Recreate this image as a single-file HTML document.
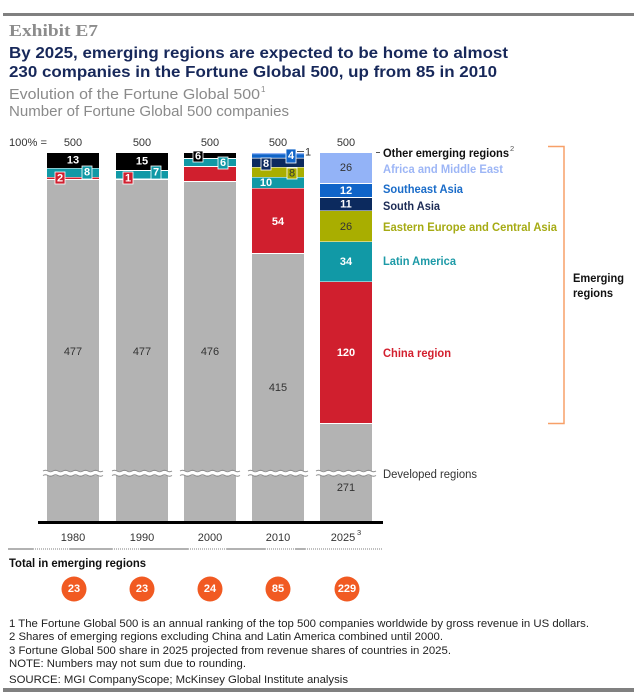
<!DOCTYPE html>
<html><head><meta charset="utf-8"><style>
html,body{margin:0;padding:0;background:#fff;}
svg{display:block;font-family:"Liberation Sans",Arial,sans-serif;}
</style></head><body>
<svg width="637" height="699" viewBox="0 0 637 699" xmlns="http://www.w3.org/2000/svg">
<!-- top rule -->
<rect x="3" y="13" width="631" height="3" fill="#808080"/>
<text x="9" y="36" font-family="'Liberation Serif',serif" font-weight="bold" font-size="17" fill="#8c8c8c" textLength="89" lengthAdjust="spacingAndGlyphs">Exhibit E7</text>
<text x="9" y="58" font-weight="bold" font-size="16" fill="#17285a" textLength="499" lengthAdjust="spacingAndGlyphs">By 2025, emerging regions are expected to be home to almost</text>
<text x="9" y="77" font-weight="bold" font-size="16" fill="#17285a" textLength="488" lengthAdjust="spacingAndGlyphs">230 companies in the Fortune Global 500, up from 85 in 2010</text>
<text x="9" y="99" font-size="14.5" fill="#8a8a8a" textLength="251" lengthAdjust="spacingAndGlyphs">Evolution of the Fortune Global 500</text>
<text x="261" y="92" font-size="8" fill="#8a8a8a">1</text>
<text x="9" y="116" font-size="14.5" fill="#8a8a8a" textLength="280" lengthAdjust="spacingAndGlyphs">Number of Fortune Global 500 companies</text>

<!-- 100% row -->
<g font-size="11" fill="#333">
<text x="9" y="146" textLength="38" lengthAdjust="spacingAndGlyphs">100% =</text>
<text x="73" y="146" text-anchor="middle">500</text>
<text x="142" y="146" text-anchor="middle">500</text>
<text x="210" y="146" text-anchor="middle">500</text>
<text x="278" y="146" text-anchor="middle">500</text>
<text x="346" y="146" text-anchor="middle">500</text>
</g>

<!-- 1980 -->
<rect x="47" y="153" width="52" height="15" fill="#000"/>
<rect x="47" y="168.5" width="52" height="8.5" fill="#1199a6"/>
<rect x="47" y="177.5" width="52" height="1.5" fill="#d01f2e"/>
<rect x="47" y="180" width="52" height="341" fill="#b3b3b3"/>
<!-- 1990 -->
<rect x="116" y="153" width="52" height="17" fill="#000"/>
<rect x="116" y="171" width="52" height="7.5" fill="#1199a6"/>
<rect x="116" y="180" width="52" height="341" fill="#b3b3b3"/>
<!-- 2000 -->
<rect x="184" y="153" width="52" height="5" fill="#000"/>
<rect x="184" y="159" width="52" height="7" fill="#1199a6"/>
<rect x="184" y="167" width="52" height="14" fill="#d01f2e"/>
<rect x="184" y="182" width="52" height="339" fill="#b3b3b3"/>
<!-- 2010 -->
<rect x="252" y="153" width="52" height="1.2" fill="#93b3f7"/>
<rect x="252" y="154.2" width="52" height="3.6" fill="#1064c8"/>
<rect x="252" y="158.5" width="52" height="8.5" fill="#0c2a5e"/>
<rect x="252" y="167.5" width="52" height="9.5" fill="#a9ae00"/>
<rect x="252" y="177.5" width="52" height="10.5" fill="#1199a6"/>
<rect x="252" y="188.5" width="52" height="64.5" fill="#d01f2e"/>
<rect x="252" y="254" width="52" height="267" fill="#b3b3b3"/>
<!-- 2025 -->
<rect x="320" y="153" width="52" height="30" fill="#93b3f7"/>
<rect x="320" y="184" width="52" height="13" fill="#1064c8"/>
<rect x="320" y="198" width="52" height="12.5" fill="#0c2a5e"/>
<rect x="320" y="211" width="52" height="30.5" fill="#a9ae00"/>
<rect x="320" y="242" width="52" height="39.5" fill="#1199a6"/>
<rect x="320" y="282" width="52" height="141" fill="#d01f2e"/>
<rect x="320" y="424" width="52" height="97" fill="#b3b3b3"/>

<!-- in-bar labels -->
<g font-size="11" font-weight="bold" fill="#fff" text-anchor="middle" dominant-baseline="central">
<text x="73" y="160.5">13</text>
<text x="142" y="161.5">15</text>
<text x="266" y="183">10</text>
<text x="278" y="222">54</text>
<text x="346" y="191">12</text>
<text x="346" y="204.5">11</text>
<text x="346" y="262">34</text>
<text x="346" y="353">120</text>
</g>
<g font-size="11" fill="#333" text-anchor="middle" dominant-baseline="central">
<text x="346" y="168">26</text>
<text x="346" y="227">26</text>
<text x="73" y="352">477</text>
<text x="142" y="352">477</text>
<text x="210" y="352">476</text>
<text x="278" y="388">415</text>
<text x="346" y="488">271</text>
</g>

<!-- callout boxes -->
<g stroke="#fff" stroke-width="0.8">
<rect x="55" y="172" width="10" height="12" fill="#d01f2e"/>
<rect x="82" y="166" width="10" height="13" fill="#1199a6"/>
<rect x="123" y="172" width="10" height="12" fill="#d01f2e"/>
<rect x="151" y="166" width="10" height="13" fill="#1199a6"/>
<rect x="193" y="151" width="10" height="11" fill="#000"/>
<rect x="218" y="157" width="10" height="12" fill="#1199a6"/>
<rect x="261" y="158" width="10" height="12" fill="#0c2a5e"/>
<rect x="286" y="149" width="10" height="14" fill="#1064c8"/>
<rect x="287" y="168" width="10" height="11" fill="#a9ae00"/>
</g>
<g font-size="11" font-weight="bold" fill="#fff" text-anchor="middle" dominant-baseline="central">
<text x="60" y="178.5">2</text>
<text x="87" y="172.5">8</text>
<text x="128" y="178.5">1</text>
<text x="156" y="172.5">7</text>
<text x="198" y="156.5">6</text>
<text x="223" y="163">6</text>
<text x="266" y="164">8</text>
<text x="291" y="156">4</text>
</g>
<text x="292" y="173.5" font-size="11" fill="#333" text-anchor="middle" dominant-baseline="central">8</text>
<line x1="297" y1="151.5" x2="304" y2="151.5" stroke="#555" stroke-width="1"/>
<text x="305" y="155.5" font-size="11" fill="#333">1</text>

<!-- break waves -->
<g>
<rect x="43" y="471" width="61" height="4.5" fill="#fff"/>
<rect x="112" y="471" width="61" height="4.5" fill="#fff"/>
<rect x="180" y="471" width="61" height="4.5" fill="#fff"/>
<rect x="248" y="471" width="61" height="4.5" fill="#fff"/>
<rect x="316" y="471" width="61" height="4.5" fill="#fff"/>
</g>
<g fill="none" stroke="#8a8a8a" stroke-width="1">
<path d="M43 471 q2.5 -1.6 5 0 t5 0 t5 0 t5 0 t5 0 t5 0 t5 0 t5 0 t5 0 t5 0 t5 0 t5 0"/>
<path d="M43 475.5 q2.5 -1.6 5 0 t5 0 t5 0 t5 0 t5 0 t5 0 t5 0 t5 0 t5 0 t5 0 t5 0 t5 0"/>
<path d="M112 471 q2.5 -1.6 5 0 t5 0 t5 0 t5 0 t5 0 t5 0 t5 0 t5 0 t5 0 t5 0 t5 0 t5 0"/>
<path d="M112 475.5 q2.5 -1.6 5 0 t5 0 t5 0 t5 0 t5 0 t5 0 t5 0 t5 0 t5 0 t5 0 t5 0 t5 0"/>
<path d="M180 471 q2.5 -1.6 5 0 t5 0 t5 0 t5 0 t5 0 t5 0 t5 0 t5 0 t5 0 t5 0 t5 0 t5 0"/>
<path d="M180 475.5 q2.5 -1.6 5 0 t5 0 t5 0 t5 0 t5 0 t5 0 t5 0 t5 0 t5 0 t5 0 t5 0 t5 0"/>
<path d="M248 471 q2.5 -1.6 5 0 t5 0 t5 0 t5 0 t5 0 t5 0 t5 0 t5 0 t5 0 t5 0 t5 0 t5 0"/>
<path d="M248 475.5 q2.5 -1.6 5 0 t5 0 t5 0 t5 0 t5 0 t5 0 t5 0 t5 0 t5 0 t5 0 t5 0 t5 0"/>
<path d="M316 471 q2.5 -1.6 5 0 t5 0 t5 0 t5 0 t5 0 t5 0 t5 0 t5 0 t5 0 t5 0 t5 0 t5 0"/>
<path d="M316 475.5 q2.5 -1.6 5 0 t5 0 t5 0 t5 0 t5 0 t5 0 t5 0 t5 0 t5 0 t5 0 t5 0 t5 0"/>
</g>

<!-- legend -->
<line x1="376" y1="152.5" x2="380" y2="152.5" stroke="#555" stroke-width="1"/>
<g font-size="11.5" font-weight="bold">
<text x="383" y="157" fill="#111" textLength="126" lengthAdjust="spacingAndGlyphs">Other emerging regions</text>
<text x="383" y="173" fill="#9db6f6" textLength="120" lengthAdjust="spacingAndGlyphs">Africa and Middle East</text>
<text x="383" y="193" fill="#1a6cc9" textLength="80" lengthAdjust="spacingAndGlyphs">Southeast Asia</text>
<text x="383" y="210" fill="#1c2b55" textLength="57" lengthAdjust="spacingAndGlyphs">South Asia</text>
<text x="383" y="231" fill="#a6ab14" textLength="174" lengthAdjust="spacingAndGlyphs">Eastern Europe and Central Asia</text>
<text x="383" y="265" fill="#1d9aa7" textLength="73" lengthAdjust="spacingAndGlyphs">Latin America</text>
<text x="383" y="357" fill="#d3202f" textLength="68" lengthAdjust="spacingAndGlyphs">China region</text>
<text x="573" y="282" fill="#111" textLength="51" lengthAdjust="spacingAndGlyphs">Emerging</text>
<text x="573" y="297" fill="#111" textLength="40" lengthAdjust="spacingAndGlyphs">regions</text>
</g>
<text x="510" y="151" font-size="7.5" fill="#555">2</text>
<text x="383" y="478" font-size="11.5" fill="#333" textLength="94" lengthAdjust="spacingAndGlyphs">Developed regions</text>
<path d="M548 146.5 H564 V423.5 H548" fill="none" stroke="#f7a068" stroke-width="1.5"/>

<!-- axis -->
<rect x="38" y="521" width="345" height="3" fill="#000"/>
<g font-size="11" fill="#333" text-anchor="middle">
<text x="73" y="541">1980</text>
<text x="142" y="541">1990</text>
<text x="210" y="541">2000</text>
<text x="278" y="541">2010</text>
<text x="343" y="541">2025</text>
</g>
<text x="357" y="535" font-size="7.5" fill="#333">3</text>

<!-- separator -->
<g stroke="#999" stroke-width="1.5">
<line x1="8" y1="549" x2="33" y2="549"/>
<line x1="70" y1="549" x2="112" y2="549"/>
<line x1="140" y1="549" x2="188" y2="549"/>
<line x1="227" y1="549" x2="265" y2="549"/>
<line x1="295" y1="549" x2="305" y2="549"/>
</g>
<g stroke="#999" stroke-width="1.2" stroke-dasharray="1 1">
<line x1="33" y1="549" x2="70" y2="549"/>
<line x1="112" y1="549" x2="140" y2="549"/>
<line x1="188" y1="549" x2="227" y2="549"/>
<line x1="265" y1="549" x2="295" y2="549"/>
<line x1="305" y1="549" x2="383" y2="549"/>
</g>

<text x="9" y="567" font-size="12" font-weight="bold" fill="#111" textLength="137" lengthAdjust="spacingAndGlyphs">Total in emerging regions</text>
<g fill="#f15a22">
<circle cx="74" cy="589" r="12.5"/>
<circle cx="142" cy="589" r="12.5"/>
<circle cx="210" cy="589" r="12.5"/>
<circle cx="278" cy="589" r="12.5"/>
<circle cx="347" cy="589" r="12.5"/>
</g>
<g font-size="11" font-weight="bold" fill="#fff" text-anchor="middle" dominant-baseline="central">
<text x="74" y="589">23</text>
<text x="142" y="589">23</text>
<text x="210" y="589">24</text>
<text x="278" y="589">85</text>
<text x="347" y="589">229</text>
</g>

<!-- footnotes -->
<g font-size="11" fill="#222">
<text x="9" y="627" textLength="580" lengthAdjust="spacingAndGlyphs">1  The Fortune Global 500 is an annual ranking of the top 500 companies worldwide by gross revenue in US dollars.</text>
<text x="9" y="640" textLength="434" lengthAdjust="spacingAndGlyphs">2  Shares of emerging regions excluding China and Latin America combined until 2000.</text>
<text x="9" y="654" textLength="442" lengthAdjust="spacingAndGlyphs">3  Fortune Global 500 share in 2025 projected from revenue shares of countries in 2025.</text>
<text x="9" y="667" textLength="237" lengthAdjust="spacingAndGlyphs">NOTE: Numbers may not sum due to rounding.</text>
<text x="9" y="683" textLength="339" lengthAdjust="spacingAndGlyphs">SOURCE: MGI CompanyScope; McKinsey Global Institute analysis</text>
</g>
<rect x="3" y="688" width="631" height="4" fill="#808080"/>
</svg>
</body></html>
